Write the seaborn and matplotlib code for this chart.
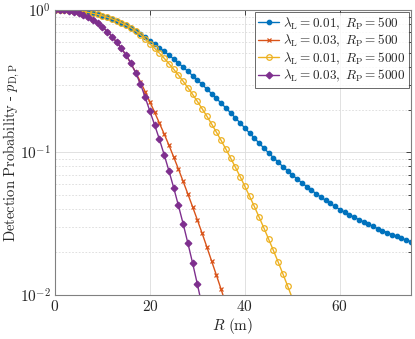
import matplotlib
matplotlib.use("Agg")
import matplotlib.pyplot as plt
import seaborn as sns
import pandas as pd

# ---- data ----
R_m = list(range(0, 76))

p_l001_rp500 = [1.0, 0.9996, 0.9981, 0.9949, 0.9898, 0.9827, 0.9733, 0.9616, 0.9475, 0.9309,
                0.9120, 0.8906, 0.8669, 0.8410, 0.8131, 0.7834, 0.7499, 0.7145, 0.6792, 0.6442,
                0.6095, 0.5761, 0.5438, 0.5129, 0.4831, 0.4533, 0.4246, 0.3972, 0.3711, 0.3463,
                0.3228, 0.3002, 0.2789, 0.2588, 0.2399, 0.2221, 0.2053, 0.1897, 0.1750, 0.1612,
                0.1486, 0.1369, 0.1262, 0.1164, 0.1075, 0.0994, 0.0921, 0.0856, 0.0797, 0.0744,
                0.0696, 0.0653, 0.0613, 0.0577, 0.0545, 0.0515, 0.0487, 0.0462, 0.0439, 0.0418,
                0.0398, 0.0382, 0.0366, 0.0352, 0.0338, 0.0326, 0.0314, 0.0303, 0.0292, 0.0283,
                0.0274, 0.0265, 0.0258, 0.0250, 0.0243, 0.0237]

p_l003_rp500 = [1.0, 0.9989, 0.9943, 0.9848, 0.9697, 0.9490, 0.9220, 0.8892, 0.8506, 0.8067,
                0.7586, 0.7064, 0.6515, 0.5948, 0.5376, 0.4808, 0.4217, 0.3648, 0.3133, 0.2673,
                0.2264, 0.1912, 0.1608, 0.1349, 0.1128, 0.0931, 0.0766, 0.0627, 0.0511, 0.0415,
                0.0336, 0.0271, 0.0217, 0.0173, 0.0138, 0.01096, 0.00865]

p_l001_rp5000 = [1.0, 0.9996, 0.9981, 0.9949, 0.9898, 0.9827, 0.9733, 0.9616, 0.9475, 0.9309,
                 0.9120, 0.8906, 0.8669, 0.8410, 0.8131, 0.7834, 0.7503, 0.7129, 0.6714, 0.6252,
                 0.5794, 0.5383, 0.4982, 0.4587, 0.4207, 0.3841, 0.3491, 0.3162, 0.2848, 0.2555,
                 0.2282, 0.2029, 0.1797, 0.1584, 0.1390, 0.1215, 0.1057, 0.0915, 0.0789, 0.0678,
                 0.0579, 0.0493, 0.0418, 0.0352, 0.0296, 0.0247, 0.0206, 0.0171, 0.0141, 0.0116,
                 0.00948]

p_l003_rp5000 = [1.0, 0.9989, 0.9943, 0.9848, 0.9697, 0.9490, 0.9220, 0.8892, 0.8506, 0.8067,
                 0.7586, 0.7064, 0.6515, 0.5948, 0.5376, 0.4808, 0.4224, 0.3623, 0.3027, 0.2444,
                 0.1945, 0.1560, 0.1237, 0.0965, 0.0745, 0.0567, 0.0425, 0.0316, 0.0231, 0.0167,
                 0.0119, 0.00835]

labels = [r"$\lambda_{\mathrm{L}}=0.01,\ R_{\mathrm{P}}=500$",
          r"$\lambda_{\mathrm{L}}=0.03,\ R_{\mathrm{P}}=500$",
          r"$\lambda_{\mathrm{L}}=0.01,\ R_{\mathrm{P}}=5000$",
          r"$\lambda_{\mathrm{L}}=0.03,\ R_{\mathrm{P}}=5000$"]
series = [p_l001_rp500, p_l003_rp500, p_l001_rp5000, p_l003_rp5000]

x_ticks = [0, 20, 40, 60]
y_ticks = [1e-2, 1e-1, 1e0]
y_tick_labels = [r"$10^{-2}$", r"$10^{-1}$", r"$10^{0}$"]

# ---- style ----
sns.set_theme(style="white")
plt.rcParams["mathtext.fontset"] = "cm"
plt.rcParams["font.family"] = ["DejaVu Serif"]

colors = ["#0072BD", "#D95319", "#EDB120", "#7E2F8E"]
markers = ["o", "x", "o", "D"]
msizes = [3.2, 3.2, 4.0, 3.4]
mfaces = ["#0072BD", "#D95319", "none", "#7E2F8E"]

fig = plt.figure(figsize=(4.15, 3.39), dpi=100)
ax = fig.add_axes([0.1325, 0.1298, 0.8578, 0.8407])

for vals, lab, c, mk, ms, mf in zip(series, labels, colors, markers, msizes, mfaces):
    df = pd.DataFrame({"R": R_m[:len(vals)], "p": vals})
    sns.lineplot(data=df, x="R", y="p", ax=ax, color=c, linewidth=1.0,
                 marker=mk, markersize=ms, markerfacecolor=mf, markeredgecolor=c,
                 markeredgewidth=0.9, label=lab)

ax.set_yscale("log")
ax.set_xlim(0, 75)
ax.set_ylim(1e-2, 1)

ax.set_xticks(x_ticks)
ax.set_xticklabels([rf"${t}$" for t in x_ticks])
ax.set_yticks(y_ticks)
ax.set_yticklabels(y_tick_labels)

ax.tick_params(axis="both", which="both", direction="in", top=True, right=True,
               labelsize=11, colors="#262626", width=0.6)
ax.tick_params(axis="both", which="major", length=3.5, pad=3)
ax.tick_params(axis="y", which="minor", length=2)

ax.grid(True, which="major", color="#dcdcdc", linewidth=0.6, linestyle="-")
ax.grid(True, which="minor", axis="y", color="#dadada", linewidth=0.6, linestyle=(0, (2, 2)))
ax.set_axisbelow(True)
for s in ax.spines.values():
    s.set_color("#808080")
    s.set_linewidth(0.8)

ax.set_xlabel(r"$R\ \mathrm{(m)}$", fontsize=11, color="#262626", labelpad=1)
ax.set_ylabel(r"$\mathrm{Detection\ Probability\ \text{-}\ }p_{\mathrm{D,P}}$",
              fontsize=10.5, color="#262626")
ax.yaxis.set_label_coords(-0.092, 0.5)

leg = ax.legend(loc="upper right", fontsize=9.5, frameon=True, fancybox=False,
                borderpad=0.25, labelspacing=0.1, handlelength=1.6, handletextpad=0.3,
                borderaxespad=0.15)
leg.get_frame().set_edgecolor("#262626")
leg.get_frame().set_linewidth(0.6)

fig.savefig("out.png", dpi=100)
